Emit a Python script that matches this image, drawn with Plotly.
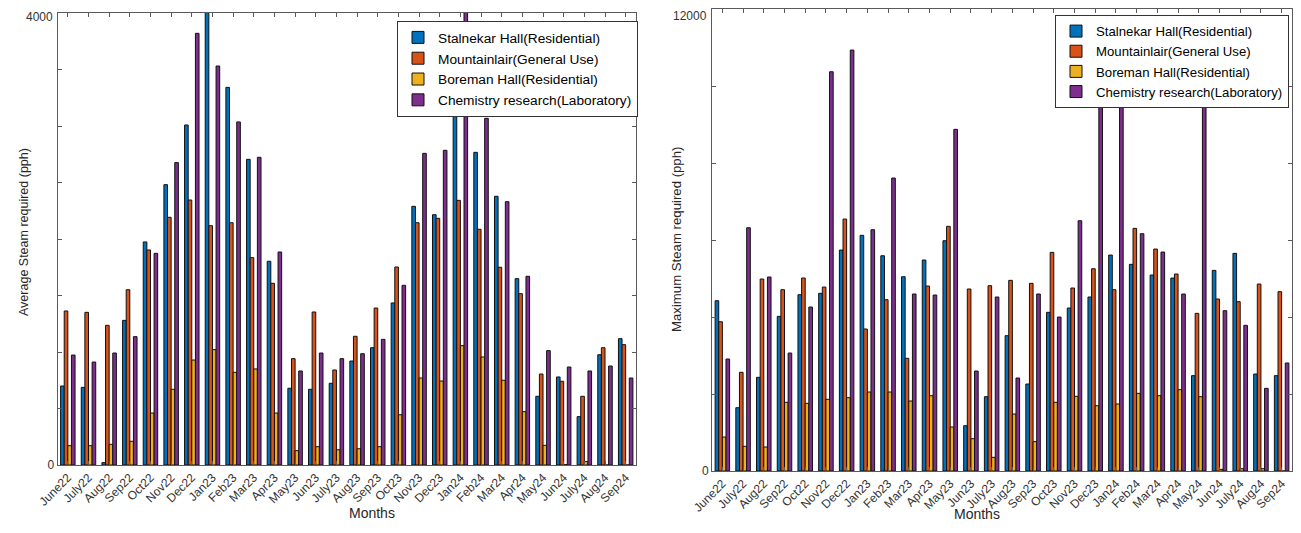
import plotly.graph_objects as go

months = ["June22", "July22", "Aug22", "Sep22", "Oct22", "Nov22", "Dec22", "Jan23", "Feb23",
          "Mar23", "Apr23", "May23", "Jun23", "July23", "Aug23", "Sep23", "Oct23", "Nov23",
          "Dec23", "Jan24", "Feb24", "Mar24", "Apr24", "May24", "Jun24", "July24", "Aug24", "Sep24"]

series_names = ["Stalnekar Hall(Residential)", "Mountainlair(General Use)",
                "Boreman Hall(Residential)", "Chemistry research(Laboratory)"]
colors = ["#0072BD", "#D95319", "#EDB120", "#7E2F8E"]

# Average steam (pph)
avg_stalnekar = [699, 687, 21, 1280, 1974, 2481, 3009, 4050, 3342, 2705, 1803, 679, 670, 723,
                 920, 1038, 1434, 2289, 2215, 3098, 2767, 2378, 1649, 608, 779, 428, 976, 1118]
avg_mountainlair = [1363, 1351, 1236, 1551, 1903, 2192, 2345, 2118, 2144, 1835, 1608, 941, 1354, 841,
                    1139, 1389, 1752, 2144, 2183, 2342, 2086, 1750, 1516, 805, 741, 608, 1038, 1065]
avg_boreman = [171, 171, 183, 210, 460, 670, 929, 1021, 820, 850, 460, 127, 162, 135,
               144, 162, 445, 770, 743, 1056, 956, 750, 472, 174, 3, 30, 0, 0]
avg_chemistry = [973, 911, 991, 1136, 1873, 2676, 3820, 3531, 3036, 2723, 1885, 832, 991, 941,
                 985, 1112, 1590, 2758, 2785, 4050, 3068, 2330, 1670, 1012, 867, 832, 876, 770]

# Maximum steam (pph)
max_stalnekar = [4423, 1644, 2433, 4017, 4579, 4615, 5739, 6121, 5591, 5046, 5480, 5981, 1177, 1930,
                 3515, 2259, 4121, 4233, 4519, 5609, 5368, 5090, 5012, 2476, 5211, 5653, 2519, 2476]
max_mountainlair = [3877, 2563, 4986, 4709, 5012, 4778, 6544, 3688, 4449, 2927, 4804, 6355, 4727, 4813,
                    4952, 4874, 5679, 4753, 5254, 4709, 6302, 5765, 5116, 4095, 4467, 4398, 4856, 4658]
max_boreman = [883, 641, 623, 1784, 1758, 1862, 1904, 2052, 2052, 1818, 1956, 1143, 840, 355,
               1480, 762, 1784, 1939, 1696, 1740, 2017, 1956, 2113, 1930, 43, 60, 60, 0]
max_chemistry = [2909, 6319, 5038, 3064, 4259, 10370, 10933, 6267, 7609, 4597, 4571, 8874, 2597, 4519,
                 2415, 4597, 3999, 6500, 9661, 9843, 6163, 5687, 4597, 9748, 4164, 3783, 2147, 2805]

avg_ticks = list(range(0, 4001, 500))
max_ticks = list(range(0, 12001, 2000))

avg_data = [avg_stalnekar, avg_mountainlair, avg_boreman, avg_chemistry]
max_data = [max_stalnekar, max_mountainlair, max_boreman, max_chemistry]

FONT = "Liberation Sans, Arial, Helvetica, sans-serif"

# page has an 8px body margin; figure sized to fill the rest of the window
OFF = 8
W, H = 1301 - OFF, 533 - OFF


def px(x):
    return (x - OFF) / W


def py(y):
    return 1 - (y - OFF) / H


fig = go.Figure()
for name, col, vals in zip(series_names, colors, avg_data):
    fig.add_trace(go.Bar(x=months, y=vals, name=name, marker=dict(color=col, line=dict(color="#111111", width=1)),
                         xaxis="x", yaxis="y", legend="legend"))
for name, col, vals in zip(series_names, colors, max_data):
    fig.add_trace(go.Bar(x=months, y=vals, name=name, marker=dict(color=col, line=dict(color="#111111", width=1)),
                         xaxis="x2", yaxis="y2", legend="legend2"))

axis_common = dict(showline=True, linecolor="#5a5a5a", linewidth=1, mirror="allticks", ticks="inside",
                   tickcolor="#5a5a5a", ticklen=4, showgrid=False, zeroline=False, automargin=False,
                   tickfont=dict(family=FONT, size=12, color="#333333"))

tick_font = dict(family=FONT, size=12, color="#333333")

fig.update_layout(
    width=W, height=H,
    margin=dict(l=0, r=0, t=0, b=0, autoexpand=False),
    paper_bgcolor="white", plot_bgcolor="white",
    barmode="group", bargap=0.3, bargroupgap=0,
    font=dict(family=FONT, color="#262626"),
    xaxis=dict(domain=[px(57.5), px(636)], anchor="y", tickangle=-45, range=[-0.5, 27.5], **axis_common),
    yaxis=dict(domain=[py(465), py(13)], anchor="x", range=[0, avg_ticks[-1]],
               tickvals=avg_ticks,
               ticktext=[str(avg_ticks[0])] + [""] * (len(avg_ticks) - 1), **axis_common),
    xaxis2=dict(domain=[px(712), px(1292)], anchor="y2", tickangle=-45, range=[-0.5, 27.5], **axis_common),
    yaxis2=dict(domain=[py(471), py(9)], anchor="x2", range=[0, max_ticks[-1]],
                tickvals=max_ticks,
                ticktext=[str(max_ticks[0])] + [""] * (len(max_ticks) - 1), **axis_common),
    legend=dict(x=px(397), xanchor="left", y=py(21), yanchor="top", xref="paper", yref="paper",
                bgcolor="white", bordercolor="#333333", borderwidth=1,
                font=dict(family=FONT, size=13.7, color="black"), tracegroupgap=0),
    legend2=dict(x=px(1055), xanchor="left", y=py(15), yanchor="top", xref="paper", yref="paper",
                 bgcolor="white", bordercolor="#333333", borderwidth=1,
                 font=dict(family=FONT, size=13.2, color="black"), tracegroupgap=0),
    annotations=[
        # top y tick labels, nudged down so they are not cut by the page edge
        dict(text=str(avg_ticks[-1]), x=px(54), y=py(9), xanchor="right", yanchor="top",
             xref="paper", yref="paper", showarrow=False, borderpad=0, font=tick_font),
        dict(text=str(max_ticks[-1]), x=px(708), y=py(8), xanchor="right", yanchor="top",
             xref="paper", yref="paper", showarrow=False, borderpad=0, font=tick_font),
        dict(text="Average Steam required (pph)", x=px(15), y=py(232), xref="paper", yref="paper",
             textangle=-90, showarrow=False, font=dict(family=FONT, size=12.5, color="#262626")),
        dict(text="Maximum Steam required (pph)", x=px(676), y=py(240), xref="paper", yref="paper",
             textangle=-90, showarrow=False, font=dict(family=FONT, size=13.2, color="#262626")),
        dict(text="Months", x=px(347), y=py(523), xref="paper", yref="paper",
             showarrow=False, font=dict(family=FONT, size=14, color="#262626")),
        dict(text="Months", x=px(1002), y=py(524), xref="paper", yref="paper",
             showarrow=False, font=dict(family=FONT, size=14, color="#262626")),
    ],
)

fig.write_html("out.html")
